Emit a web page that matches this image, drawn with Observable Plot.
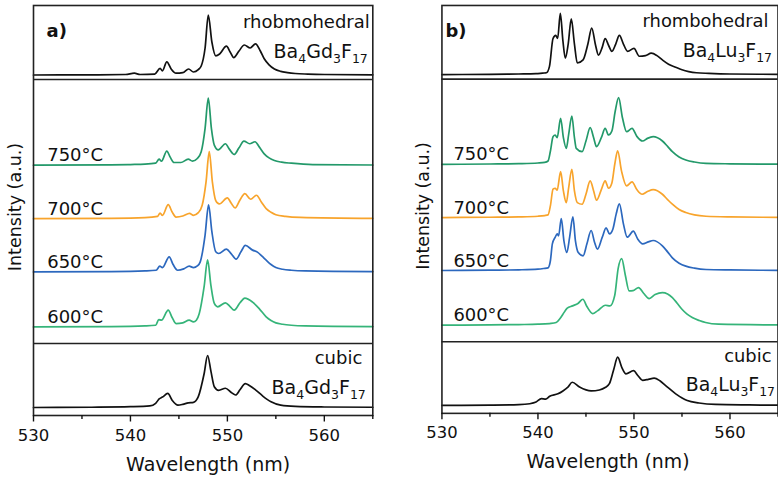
<!DOCTYPE html>
<html>
<head>
<meta charset="utf-8">
<script src="https://cdn.jsdelivr.net/npm/d3@7"></script>
<script src="https://cdn.jsdelivr.net/npm/@observablehq/plot@0.6"></script>
<style>
html, body { margin: 0; padding: 0; overflow: hidden; background: #fff; }
#wrap { position: relative; width: 778px; height: 477px; overflow: hidden; background: #fff; }
.panel { position: absolute; top: 0; }
</style>
</head>
<body>
<div id="wrap"><div id="pa" class="panel" style="left:0px"></div><div id="pb" class="panel" style="left:390px"></div></div>
<script>
// ---------- DATA: [wavelength (nm), relative intensity (% of max)] ----------
const gdRhombohedral = [[530,0],[536,0.3],[539.5,0.8],[540.4,3],[541,0.8],[542.5,1.5],[543.06,11],[543.3,7],[543.75,22],[544.2,10],[544.7,3],[545.4,4],[546.0,10],[546.5,5],[547.0,9],[547.3,15],[547.7,45],[548.03,100],[548.4,55],[548.8,32],[549.2,35],[549.9,48],[550.3,38],[550.65,29],[551.2,40],[551.75,50],[552.35,45],[552.9,52],[553.4,40],[553.8,27],[554.3,17],[554.85,10],[555.5,6],[556.2,4],[557,2.5],[558.3,1.5],[560,0.8],[565,0.3]];
const gd750 = [[530,0],[538,0.5],[540,1],[541.5,1.5],[542.6,3],[542.96,9],[543.2,6],[543.75,21],[544.1,12],[544.5,4],[545.2,4],[545.96,9],[546.4,6],[546.9,10],[547.3,20],[547.7,55],[548.03,100],[548.35,55],[548.65,30],[549.06,23],[549.8,32],[550.2,24],[550.7,16],[551.2,26],[551.7,36],[552.3,32],[552.85,35],[553.3,27],[553.8,17],[554.3,11],[554.85,7],[555.6,4.5],[556.6,3],[558.8,1],[565,0.3]];
const gd700 = [[530,0],[538,0.5],[541.5,1.5],[542.8,3.5],[543.06,8.5],[543.3,5],[543.9,21],[544.3,10],[544.7,2.5],[545.4,4],[546.1,8],[546.5,5],[547.0,9],[547.4,20],[547.8,55],[548.13,100],[548.45,55],[548.8,27],[549.16,22],[550.0,31],[550.4,23],[550.8,16],[551.3,28],[551.8,37.5],[552.4,29],[553.0,35],[553.5,25],[554.0,15],[554.5,9.5],[555.0,6],[556,3.5],[557.5,2],[565,0.5]];
const gd650 = [[530,0],[538,0.5],[541.5,1.5],[542.65,2.5],[543.03,8.5],[543.3,6.5],[544.0,22.5],[544.4,11],[544.86,2.5],[545.5,4.5],[546.06,8.5],[546.5,6.5],[546.9,9],[547.2,15],[547.7,55],[548.06,100],[548.4,60],[548.8,30],[549.1,27.5],[549.9,34],[550.4,27],[550.9,19],[551.4,30],[551.85,39.5],[552.6,32.5],[553.1,29.5],[553.6,23],[554.0,17.5],[554.5,11],[555.0,6.5],[555.7,4],[556.6,2.5],[558,1.5],[565,0.5]];
const gd600 = [[530,0],[538,0.5],[541.5,1.5],[542.6,2.5],[542.93,11],[543.2,10],[543.9,25],[544.3,14],[544.7,5],[545.4,6],[546.06,10],[546.5,7.5],[546.8,10],[547.1,20],[547.6,60],[547.96,100],[548.3,62],[548.65,35],[549.0,30],[549.8,36],[550.3,30],[550.7,25],[551.3,36],[551.8,43],[552.6,37],[553.3,27],[554.0,15],[554.5,9.5],[555.0,6],[555.7,4],[556.6,2.5],[558,1.5],[565,0.5]];
const gdCubic = [[530,0],[536,0.5],[540,1.5],[542,3],[542.6,8],[542.96,16.5],[543.3,20],[543.85,27],[544.3,14],[544.9,4.5],[545.4,6],[545.96,9],[546.5,10],[547.0,21],[547.6,65],[547.96,100],[548.3,70],[548.65,40],[549.1,33],[549.8,37],[550.4,29],[550.85,24],[551.3,34],[551.85,46],[552.3,42],[552.9,34],[553.65,22],[554.5,11],[555.5,4.5],[557,2],[560,1],[565,0.5]];

const luRhombohedral = [[530,0],[535,0.5],[538,1],[539.8,1.5],[540.5,2.5],[540.88,3],[541.2,13.5],[541.57,59],[541.85,64],[542.05,59],[542.33,100],[542.6,55],[542.85,27],[543.15,50],[543.47,91],[543.8,50],[544.1,19],[544.7,24],[545.2,50],[545.6,76],[546.0,48],[546.3,32],[546.7,45],[547.0,59],[547.35,48],[547.7,38],[548.1,50],[548.48,64],[548.9,50],[549.34,38],[550.0,43],[550.55,30],[551.2,31],[551.8,35],[552.4,31],[552.96,24],[553.6,17],[554.35,12],[555.0,8],[555.7,5],[556.5,3],[557.8,2],[560,1],[565,0.5]];
const lu750 = [[530,0],[535,0.5],[538,1],[540,2],[540.7,3],[541.05,5],[541.3,20],[541.57,41.5],[541.8,44],[542.0,40],[542.36,69],[542.65,40],[542.95,24],[543.2,45],[543.53,72.5],[543.8,40],[543.99,24],[544.6,19],[545.0,35],[545.44,55],[545.8,40],[546.1,26.5],[546.6,40],[547.0,54],[547.35,44],[547.7,50],[548.05,80],[548.4,100],[548.8,70],[549.23,49],[549.8,54],[550.3,42],[550.9,35],[551.4,39],[552.0,41.5],[552.96,35],[553.5,27],[554.0,19],[554.7,11],[555.4,6.5],[556.3,3.5],[557.5,1.5],[560,0.8],[565,0.3]];
const lu700 = [[530,0],[535,0.5],[538,1],[540,2],[540.7,3],[541.05,4],[541.3,18],[541.57,42.5],[541.8,44],[542.0,41],[542.36,69],[542.65,40],[542.95,22.5],[543.2,45],[543.53,72.5],[543.8,40],[544.1,22.5],[544.6,20],[545.0,35],[545.44,55],[545.8,40],[546.1,26],[546.6,42],[547.0,55],[547.35,44],[547.7,52],[548.0,80],[548.3,100],[548.7,70],[549.23,47.5],[549.8,53.5],[550.3,42],[550.85,35],[551.4,39],[552.0,42],[552.96,35],[553.5,27],[554.0,20],[554.7,12],[555.4,7.5],[556.3,4],[557.5,2],[560,1],[565,0.4]];
const lu650 = [[530,0],[535,0.5],[538,1],[540,2],[540.6,3],[541.05,4],[541.3,15],[541.5,40],[541.8,50],[542.0,55],[542.15,52],[542.43,78],[542.7,45],[543.0,27],[543.3,50],[543.64,80.5],[543.9,45],[544.2,27],[544.7,22],[545.1,40],[545.54,60],[545.9,42],[546.2,32],[546.7,50],[547.1,64],[547.45,55],[547.8,62],[548.15,85],[548.48,100],[548.9,70],[549.3,50],[549.93,59],[550.4,47],[550.9,40],[551.5,43],[552.0,45],[552.96,37],[553.5,28],[554.0,19],[554.7,11],[555.4,6.5],[556.3,3.5],[557.5,1.5],[560,0.8],[565,0.3]];
const lu600 = [[530,0],[535,0.5],[538,1],[540,1.5],[541.2,2.5],[541.9,4],[542.3,10],[542.6,16.5],[543.05,25.5],[543.6,29],[544.2,33],[544.68,39],[545.1,28],[545.7,17.5],[546.2,21.5],[547.03,30],[547.5,29],[548.0,45],[548.35,85],[548.72,100],[549.1,75],[549.5,51.5],[549.9,52],[550.48,56.5],[551.0,48],[551.58,40],[552.2,46],[552.96,49],[553.5,47],[554.0,41.5],[554.5,33],[555.0,24],[555.5,17],[556.07,11.5],[556.8,7],[557.46,4],[558.8,1.5],[565,0.5]];
const luCubic = [[530,0],[535,0.5],[538,1.5],[539.15,3.5],[539.8,7],[540.36,14],[540.8,13],[541.22,19],[542.08,24],[542.6,30],[543.12,38],[543.57,48],[544.33,38],[545.54,30],[546.4,32],[547.0,37],[547.44,45],[547.9,75],[548.3,100],[548.75,78],[549.17,65.5],[549.96,72],[550.4,62],[550.9,52],[551.5,54],[552.1,56.5],[552.7,51],[553.3,41],[554.35,24],[555.55,10],[556.77,5],[558.5,2],[562,1],[565,0.5]];

const temperatures = ["750°C", "700°C", "650°C", "600°C"];
const xTicks = [530, 540, 550, 560];
const xMinorTicks = [535, 545, 555, 565];

// ---------- LAYOUT / STYLE ----------
const FONT = "DejaVu Sans";
const stackOffset = {rhombo: 340.5, "750°C": 250.3, "700°C": 196.8, "650°C": 143.6, "600°C": 88.6, cubic: 8};
const dividers = [72, 336];
const tempColors = {"750°C": "#23996a", "700°C": "#f8a42c", "650°C": "#2c68be", "600°C": "#35b479"};

function panel(cfg) {
  const marks = [];
  const series = [
    {key: "rhombo", data: cfg.rhombo, amp: cfg.ampTop, color: "#111"},
    {key: "750°C", data: cfg.t750, amp: 67, color: tempColors["750°C"]},
    {key: "700°C", data: cfg.t700, amp: 67, color: tempColors["700°C"]},
    {key: "650°C", data: cfg.t650, amp: 67, color: tempColors["650°C"]},
    {key: "600°C", data: cfg.t600, amp: 67, color: tempColors["600°C"]},
    {key: "cubic", data: cfg.cubic, amp: cfg.ampBottom, color: "#111"}
  ];
  for (const s of series) {
    marks.push(Plot.line(s.data, {
      x: d => d[0],
      y: d => stackOffset[s.key] + s.amp * d[1] / 100,
      stroke: s.color, strokeWidth: 1.7, curve: "monotone-x"
    }));
  }
  marks.push(Plot.ruleY(dividers, {stroke: "#222", strokeWidth: 1.6}));
  marks.push(Plot.frame({stroke: "#222", strokeWidth: 1.6}));
  marks.push(Plot.axisX({ticks: xTicks, tickSize: 6.5, tickPadding: 7, fontSize: 16.5, label: null, strokeWidth: 1.4}));
  marks.push(Plot.axisX({ticks: xMinorTicks, tickSize: 4, tickFormat: () => "", label: null, strokeWidth: 1.4}));
  marks.push(Plot.text(temperatures, {
    y: d => stackOffset[d], text: d => d, frameAnchor: "left", dx: cfg.tempDx, dy: -4,
    textAnchor: "start", lineAnchor: "bottom", fontSize: 18, fill: "#111"
  }));
  marks.push(Plot.text([cfg.letter], {frameAnchor: "top-left", dx: cfg.letterDx, dy: 31.5, textAnchor: "start", lineAnchor: "bottom", fontSize: 18, fontWeight: "bold", fill: "#111"}));
  marks.push(Plot.text([cfg.topName], {frameAnchor: "top-right", dx: cfg.topNameDx, dy: 22, textAnchor: "end", lineAnchor: "bottom", fontSize: 18, fill: "#111"}));
  marks.push(Plot.text([cfg.formula], {frameAnchor: "top-right", dx: cfg.topFormulaDx, dy: 52, textAnchor: "end", lineAnchor: "bottom", fontSize: 19, fill: "#111", className: "formula"}));
  marks.push(Plot.text(["cubic"], {frameAnchor: "bottom-right", dx: cfg.cubicDx, dy: -52, textAnchor: "end", lineAnchor: "bottom", fontSize: 18, fill: "#111"}));
  marks.push(Plot.text([cfg.formula], {frameAnchor: "bottom-right", dx: cfg.cubicFormulaDx, dy: -22, textAnchor: "end", lineAnchor: "bottom", fontSize: 19, fill: "#111", className: "formula"}));
  marks.push(Plot.text(["Intensity (a.u.)"], {frameAnchor: "left", dx: -13, dy: -3.5, rotate: -90, textAnchor: "middle", lineAnchor: "bottom", fontSize: 17.5, fill: "#111"}));
  marks.push(Plot.text(["Wavelength (nm)"], {frameAnchor: "bottom", dx: cfg.xLabelDx, dy: 55, textAnchor: "middle", lineAnchor: "bottom", fontSize: 19, fill: "#111"}));

  const svg = Plot.plot({
    width: cfg.width, height: 477,
    marginLeft: cfg.ml, marginRight: cfg.mr, marginTop: 5, marginBottom: 62,
    x: {domain: [530, 565]},
    y: {domain: [0, 410], axis: null},
    style: {fontFamily: FONT, background: "transparent", color: "#111", overflow: "visible"},
    marks
  });
  // chemical formulas: render digits as subscripts
  d3.select(svg).selectAll("text").each(function () {
    const t = this.textContent;
    if (t !== cfg.formula) return;
    const sel = d3.select(this);
    sel.text(null);
    const parts = t.match(/\d+|\D+/g);
    let shifted = false;
    for (const p of parts) {
      const isSub = /^\d+$/.test(p);
      const ts = sel.append("tspan").text(p);
      if (isSub) { ts.attr("font-size", 12.5).attr("dy", shifted ? 0 : 5); shifted = true; }
      else if (shifted) { ts.attr("dy", -5); shifted = false; }
    }
  });
  return svg;
}

document.getElementById("pa").appendChild(panel({
  width: 390, ml: 33, mr: 17.7, letter: "a)", letterDx: 13, tempDx: 13.7,
  rhombo: gdRhombohedral, t750: gd750, t700: gd700, t650: gd650, t600: gd600, cubic: gdCubic,
  ampTop: 60, ampBottom: 52,
  topName: "rhobmohedral", formula: "Ba4Gd3F17",
  topNameDx: -3, topFormulaDx: -5, cubicDx: -10.5, cubicFormulaDx: -7, xLabelDx: 5
}));
document.getElementById("pb").appendChild(panel({
  width: 390, ml: 51.7, mr: 0.5, letter: "b)", letterDx: 3.5, tempDx: 11.6,
  rhombo: luRhombohedral, t750: lu750, t700: lu700, t650: lu650, t600: lu600, cubic: luCubic,
  ampTop: 61.5, ampBottom: 48.5,
  topName: "rhombohedral", formula: "Ba4Lu3F17",
  topNameDx: -9.5, topFormulaDx: -6, cubicDx: -6.5, cubicFormulaDx: -3, xLabelDx: -2
}));
</script>
</body>
</html>
